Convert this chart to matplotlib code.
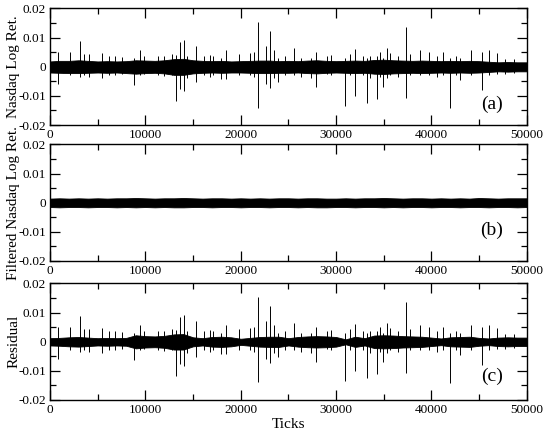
import numpy as np
import matplotlib
matplotlib.use("Agg")
import matplotlib.pyplot as plt
from matplotlib.ticker import MultipleLocator

plt.rcParams['font.family'] = ['Liberation Serif', 'DejaVu Serif']
plt.rcParams['axes.unicode_minus'] = False

# envelope of the dense noise band, one value every 1000 ticks
band_t = np.arange(0, 50001, 1000)

a_hi = [0.0018, 0.0020, 0.0020, 0.0022, 0.0020, 0.0018, 0.0019, 0.0018, 0.0019, 0.0022,
        0.0021, 0.0020, 0.0022, 0.0026, 0.0027, 0.0022, 0.0020, 0.0019, 0.0020, 0.0018,
        0.0019, 0.0020, 0.0021, 0.0021, 0.0019, 0.0020, 0.0019, 0.0021, 0.0022, 0.0020,
        0.0019, 0.0020, 0.0021, 0.0020, 0.0023, 0.0024, 0.0022, 0.0021, 0.0020, 0.0021,
        0.0020, 0.0019, 0.0020, 0.0019, 0.0020, 0.0019, 0.0017, 0.0015, 0.0016, 0.0015, 0.0015]
a_lo = [-0.0020, -0.0021, -0.0022, -0.0022, -0.0021, -0.0020, -0.0021, -0.0020, -0.0022, -0.0024,
        -0.0022, -0.0021, -0.0023, -0.0028, -0.0028, -0.0023, -0.0021, -0.0020, -0.0021, -0.0020,
        -0.0020, -0.0021, -0.0022, -0.0022, -0.0021, -0.0021, -0.0020, -0.0022, -0.0023, -0.0021,
        -0.0020, -0.0021, -0.0022, -0.0021, -0.0024, -0.0025, -0.0023, -0.0022, -0.0021, -0.0022,
        -0.0021, -0.0020, -0.0021, -0.0020, -0.0021, -0.0020, -0.0018, -0.0016, -0.0017, -0.0016, -0.0016]

b_hi = [0.0014, 0.0015, 0.0014, 0.0015, 0.0014, 0.0015, 0.0014, 0.0015, 0.0015, 0.0016,
        0.0015, 0.0014, 0.0015, 0.0015, 0.0016, 0.0015, 0.0014, 0.0015, 0.0015, 0.0014,
        0.0015, 0.0014, 0.0015, 0.0014, 0.0015, 0.0015, 0.0014, 0.0015, 0.0015, 0.0014,
        0.0014, 0.0015, 0.0014, 0.0015, 0.0015, 0.0016, 0.0015, 0.0014, 0.0015, 0.0015,
        0.0014, 0.0015, 0.0014, 0.0015, 0.0014, 0.0016, 0.0015, 0.0014, 0.0015, 0.0015, 0.0015]
b_lo = [-0.0015, -0.0016, -0.0015, -0.0015, -0.0016, -0.0015, -0.0015, -0.0016, -0.0015, -0.0016,
        -0.0015, -0.0016, -0.0015, -0.0016, -0.0016, -0.0015, -0.0015, -0.0016, -0.0015, -0.0015,
        -0.0016, -0.0015, -0.0015, -0.0016, -0.0015, -0.0015, -0.0016, -0.0015, -0.0016, -0.0016,
        -0.0015, -0.0015, -0.0016, -0.0015, -0.0015, -0.0016, -0.0015, -0.0016, -0.0015, -0.0015,
        -0.0016, -0.0015, -0.0015, -0.0016, -0.0015, -0.0015, -0.0016, -0.0015, -0.0015, -0.0016, -0.0015]

c_hi = [0.0012, 0.0013, 0.0015, 0.0016, 0.0014, 0.0012, 0.0013, 0.0012, 0.0013, 0.0022,
        0.0019, 0.0018, 0.0020, 0.0025, 0.0026, 0.0015, 0.0012, 0.0016, 0.0017, 0.0015,
        0.0010, 0.0013, 0.0016, 0.0017, 0.0017, 0.0012, 0.0016, 0.0018, 0.0019, 0.0018,
        0.0016, 0.0008, 0.0017, 0.0012, 0.0021, 0.0022, 0.0021, 0.0019, 0.0018, 0.0017,
        0.0014, 0.0011, 0.0015, 0.0016, 0.0017, 0.0013, 0.0011, 0.0014, 0.0015, 0.0014, 0.0014]
c_lo = [-0.0013, -0.0014, -0.0016, -0.0017, -0.0015, -0.0013, -0.0014, -0.0013, -0.0014, -0.0023,
        -0.0020, -0.0019, -0.0021, -0.0027, -0.0027, -0.0016, -0.0013, -0.0017, -0.0018, -0.0016,
        -0.0011, -0.0014, -0.0017, -0.0018, -0.0018, -0.0013, -0.0017, -0.0019, -0.0020, -0.0019,
        -0.0017, -0.0009, -0.0018, -0.0013, -0.0022, -0.0023, -0.0022, -0.0020, -0.0019, -0.0018,
        -0.0015, -0.0012, -0.0016, -0.0017, -0.0018, -0.0014, -0.0012, -0.0015, -0.0016, -0.0015, -0.0015]

# isolated spikes (tick, top, bottom); the residual keeps them
spk_t = [800, 2100, 3150, 3600, 4100, 5500, 6200, 6800, 7500, 8780,
         9440, 9900, 11300, 12000, 12800, 13180, 13600, 14020, 14400, 15320,
         16200, 16800, 17100, 17900, 18460, 19800, 21020, 21440, 21820, 22660,
         23080, 23540, 23900, 24600, 25600, 26300, 27340, 27870, 29000, 29500,
         30940, 31500, 32030, 32800, 33220, 33600, 34340, 34600, 34950, 35320,
         35700, 36500, 37310, 37750, 38810, 39700, 40600, 41200, 41960, 42600,
         43000, 44100, 45280, 46000, 46900, 47700, 48700]
spk_hi = [0.0050, 0.0049, 0.0087, 0.0043, 0.0042, 0.0047, 0.0035, 0.0035, 0.0033, 0.0030,
          0.0058, 0.0035, 0.0038, 0.0035, 0.0045, 0.0040, 0.0086, 0.0091, 0.0035, 0.0070,
          0.0038, 0.0040, 0.0035, 0.0030, 0.0056, 0.0043, 0.0047, 0.0052, 0.0154, 0.0070,
          0.0122, 0.0056, 0.0030, 0.0035, 0.0064, 0.0030, 0.0030, 0.0052, 0.0035, 0.0040,
          0.0030, 0.0042, 0.0060, 0.0035, 0.0030, 0.0035, 0.0038, 0.0050, 0.0030, 0.0064,
          0.0047, 0.0035, 0.0137, 0.0042, 0.0058, 0.0052, 0.0035, 0.0052, 0.0030, 0.0035,
          0.0030, 0.0058, 0.0052, 0.0058, 0.0047, 0.0025, 0.0028]
spk_lo = [-0.0060, -0.0030, -0.0035, -0.0030, -0.0035, -0.0040, -0.0030, -0.0028, -0.0025, -0.0064,
          -0.0030, -0.0025, -0.0030, -0.0033, -0.0030, -0.0119, -0.0076, -0.0084, -0.0040, -0.0052,
          -0.0030, -0.0035, -0.0030, -0.0043, -0.0043, -0.0030, -0.0030, -0.0035, -0.0140, -0.0060,
          -0.0072, -0.0040, -0.0052, -0.0030, -0.0030, -0.0035, -0.0040, -0.0070, -0.0025, -0.0030,
          -0.0134, -0.0030, -0.0102, -0.0030, -0.0124, -0.0040, -0.0110, -0.0035, -0.0070, -0.0040,
          -0.0030, -0.0035, -0.0107, -0.0030, -0.0030, -0.0030, -0.0035, -0.0030, -0.0143, -0.0030,
          -0.0047, -0.0030, -0.0080, -0.0030, -0.0025, -0.0025, -0.0020]

x_ticks = [0, 10000, 20000, 30000, 40000, 50000]
y_ticks = [-0.02, -0.01, 0, 0.01, 0.02]
y_labels = ["-0.02", "-0.01", "0", "0.01", "0.02"]

panels = [
    ("Nasdaq Log Ret.", "(a)", a_hi, a_lo, True, 0.18),
    ("Filtered Nasdaq Log Ret.", "(b)", b_hi, b_lo, False, 0.26),
    ("Residual", "(c)", c_hi, c_lo, True, 0.20),
]
bottoms = [0.7133, 0.4014, 0.0826]

fig = plt.figure(figsize=(5.45, 4.36), dpi=100)

for (ylab, tag, hi, lo, spikes, tag_y), y0 in zip(panels, bottoms):
    ax = fig.add_axes([0.0917, y0, 0.875, 0.2675])
    ax.axhline(0, color='k', lw=0.8)
    ax.fill_between(band_t, lo, hi, color='k', lw=0.6)
    if spikes:
        ax.vlines(spk_t, spk_lo, spk_hi, color='k', lw=0.7)
    ax.set_xlim(0, 50000)
    ax.set_ylim(-0.02, 0.02)
    ax.set_xticks(x_ticks)
    ax.set_xticklabels([str(v) for v in x_ticks])
    ax.set_yticks(y_ticks)
    ax.set_yticklabels(y_labels)
    ax.xaxis.set_minor_locator(MultipleLocator(5000))
    ax.yaxis.set_minor_locator(MultipleLocator(0.005))
    ax.tick_params(which='both', direction='in', top=True, right=True,
                   labelsize=9.5, width=0.9, pad=3)
    ax.tick_params(which='major', length=7.5)
    ax.tick_params(which='minor', length=4)
    for s in ax.spines.values():
        s.set_linewidth(1.0)
    ax.set_ylabel(ylab, fontsize=11)
    ax.yaxis.set_label_coords(-0.062, 0.5)
    ax.text(0.927, tag_y, tag, transform=ax.transAxes, fontsize=14,
            ha='center', va='center')

ax.set_xlabel("Ticks", fontsize=11, labelpad=1)

fig.savefig("out.png", dpi=100)
